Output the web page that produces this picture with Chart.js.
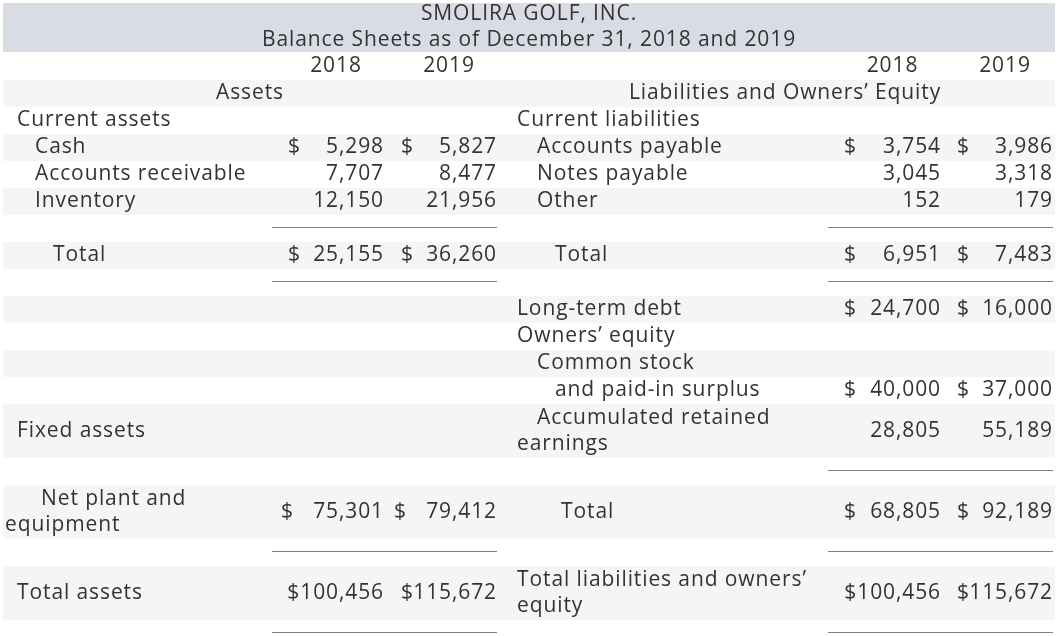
<!DOCTYPE html>
<html>
<head>
<meta charset="utf-8">
<script src="https://cdn.jsdelivr.net/npm/chart.js@4.4.1/dist/chart.umd.min.js"></script>
<style>
  html, body { margin: 0; padding: 0; background: #ffffff; }
  canvas { display: block; }
</style>
</head>
<body>
<canvas id="sheet" width="1062" height="636"></canvas>
<script>
// ================= DATA =================
const titleLines = ['SMOLIRA GOLF, INC.', 'Balance Sheets as of December 31, 2018 and 2019'];
const years = ['2018', '2019'];
const sectionHeaders = ['Assets', 'Liabilities and Owners\u2019 Equity'];

const assetLabels = ['Current assets', 'Cash', 'Accounts receivable', 'Inventory', '', 'Total', '', '', '', '', '',
  'Fixed assets', '', 'Net plant and\nequipment', '', 'Total assets', ''];
const assets2018 = [null, 5298, 7707, 12150, null, 25155, null, null, null, null, null, null, null, 75301, null, 100456, null];
const assets2019 = [null, 5827, 8477, 21956, null, 36260, null, null, null, null, null, null, null, 79412, null, 115672, null];

const liabLabels = ['Current liabilities', 'Accounts payable', 'Notes payable', 'Other', '', 'Total', '',
  'Long-term debt', 'Owners\u2019 equity', 'Common stock', 'and paid-in surplus', 'Accumulated retained\nearnings', '',
  'Total', '', 'Total liabilities and owners\u2019\nequity', ''];
const liab2018 = [null, 3754, 3045, 152, null, 6951, null, 24700, null, null, 40000, 28805, null, 68805, null, 100456, null];
const liab2019 = [null, 3986, 3318, 179, null, 7483, null, 16000, null, null, 37000, 55189, null, 92189, null, 115672, null];

// rows (body index) that carry a total rule
const assetRules = [4, 6, 14, 16];
const liabRules = [4, 6, 12, 14, 16];

// ================= STYLE / LAYOUT =================
const FONT_FAMILY = "'Open Sans', sans-serif";
const FONT_SIZE = 21;
const LETTER_SPACING = '0.9px';
const TEXT_COLOR = '#333333';
const BAND_COLOR = '#d9dce5';
const STRIPE_COLOR = '#f5f5f5';
const RULE_COLOR = '#808080';

const LAYOUT = {
  width: 1062, height: 636,
  rowPx: 27, topPx: 26,
  tableX: [3, 1055],
  band: [3, 52],
  titleX: 529, titleGap: 26,
  sectionX: [250, 785],
  lineGap: 26,
  bodyStartUnit: 3,
  leftLabelX: [[17], [35], [35], [35], [], [53], [], [], [], [], [], [17], [], [41, 5], [], [17], []],
  rightLabelX: [[517], [537], [537], [537], [], [555], [], [517], [517], [537], [555], [537, 517], [], [561], [], [517, 517], []],
  cols: {
    a18: { dollar: 288, right: 384 },
    a19: { dollar: 401, right: 497 },
    l18: { dollar: 844, right: 941 },
    l19: { dollar: 957, right: 1053 }
  },
  // dollar sign style per cell: s = separate column sign, w = separate shifted, a = attached
  dollar: {
    a18: { 1: 's', 5: 's', 13: 'w', 15: 'a' },
    a19: { 1: 's', 5: 's', 13: 'w', 15: 's' },
    l18: { 1: 's', 5: 's', 7: 's', 10: 's', 13: 's', 15: 'a' },
    l19: { 1: 's', 5: 's', 7: 's', 10: 's', 13: 's', 15: 's' }
  },
  wideShift: -7,
  ruleLeft: [272, 497],
  ruleRight: [828, 1053]
};

// ================= BUILD =================
const px2u = p => p / LAYOUT.rowPx;
const yMin = -LAYOUT.topPx / LAYOUT.rowPx;
const yMax = (LAYOUT.height - LAYOUT.topPx) / LAYOUT.rowPx;

// row structure
const rows = [];
rows.push({ unit: 1, span: 1, gray: false });   // year header
rows.push({ unit: 2, span: 1, gray: true });    // section header
const bodyRows = [];
let u = LAYOUT.bodyStartUnit;
for (let i = 0; i < assetLabels.length; i++) {
  const span = Math.max(assetLabels[i].split('\n').length, liabLabels[i].split('\n').length);
  const r = { unit: u, span: span, gray: i % 2 === 1 };
  bodyRows.push(r); rows.push(r);
  u += span;
}
const center = r => r.unit + r.span / 2;

// text points (labels + headers)
const textPoints = [];
titleLines.forEach((t, j) => {
  const c = (px2u(LAYOUT.band[0] - LAYOUT.topPx) + px2u(LAYOUT.band[1] - LAYOUT.topPx)) / 2;
  textPoints.push({ x: LAYOUT.titleX, y: c + (j - 0.5) * px2u(LAYOUT.titleGap), text: t, align: 'center' });
});
const colKeys = ['a18', 'a19', 'l18', 'l19'];
colKeys.forEach((k, j) => {
  const c = LAYOUT.cols[k];
  textPoints.push({ x: (c.dollar + c.right) / 2, y: center(rows[0]), text: years[j % 2], align: 'center' });
});
sectionHeaders.forEach((t, j) => {
  textPoints.push({ x: LAYOUT.sectionX[j], y: center(rows[1]), text: t, align: 'center' });
});
function addLabels(labels, xs) {
  labels.forEach((lab, i) => {
    if (!lab) return;
    const lines = lab.split('\n');
    const r = bodyRows[i];
    lines.forEach((ln, j) => {
      textPoints.push({
        x: xs[i][j], y: center(r) + (j - (lines.length - 1) / 2) * px2u(LAYOUT.lineGap),
        text: ln, align: 'left'
      });
    });
  });
}
addLabels(assetLabels, LAYOUT.leftLabelX);
addLabels(liabLabels, LAYOUT.rightLabelX);

// numeric cells
const valueSets = { a18: assets2018, a19: assets2019, l18: liab2018, l19: liab2019 };
const cellDatasets = colKeys.map(k => ({
  label: k,
  colKey: k,
  kind: 'cells',
  data: valueSets[k].map((v, i) => v === null ? null :
    { x: LAYOUT.cols[k].right, y: center(bodyRows[i]), v: v, dollar: LAYOUT.dollar[k][i] || '' })
    .filter(p => p !== null),
  pointRadius: 0, pointHoverRadius: 0, showLine: false
}));

// rules as line datasets
const ruleDatasets = [];
function addRules(list, span) {
  list.forEach(i => {
    const r = bodyRows[i];
    const yy = r.unit + 0.5 - px2u(1);
    ruleDatasets.push({
      type: 'line', kind: 'rule',
      data: [{ x: span[0], y: yy }, { x: span[1], y: yy }],
      borderColor: RULE_COLOR, borderWidth: 1, pointRadius: 0, showLine: true, fill: false
    });
  });
}
addRules(assetRules, LAYOUT.ruleLeft);
addRules(liabRules, LAYOUT.ruleRight);

const textDataset = { label: 'text', kind: 'text', data: textPoints, pointRadius: 0, pointHoverRadius: 0, showLine: false };

// ================= PLUGIN =================
const tablePlugin = {
  id: 'tablePlugin',
  beforeDatasetsDraw(chart) {
    const { ctx, scales: { x, y } } = chart;
    const x0 = x.getPixelForValue(LAYOUT.tableX[0]);
    const x1 = x.getPixelForValue(LAYOUT.tableX[1]);
    ctx.save();
    ctx.fillStyle = BAND_COLOR;
    const b0 = y.getPixelForValue(px2u(LAYOUT.band[0] - LAYOUT.topPx));
    const b1 = y.getPixelForValue(px2u(LAYOUT.band[1] - LAYOUT.topPx));
    ctx.fillRect(x0, b0, x1 - x0, b1 - b0);
    ctx.fillStyle = STRIPE_COLOR;
    rows.forEach(r => {
      if (!r.gray) return;
      const t = y.getPixelForValue(r.unit);
      const bt = y.getPixelForValue(r.unit + r.span);
      ctx.fillRect(x0, t, x1 - x0, bt - t);
    });
    ctx.restore();
  },
  afterDatasetsDraw(chart) {
    const { ctx, scales: { x } } = chart;
    ctx.save();
    ctx.font = FONT_SIZE + 'px ' + FONT_FAMILY;
    try { ctx.letterSpacing = LETTER_SPACING; } catch (e) {}
    ctx.fillStyle = TEXT_COLOR;
    ctx.textBaseline = 'middle';
    chart.data.datasets.forEach((ds, di) => {
      const meta = chart.getDatasetMeta(di);
      if (ds.kind === 'text') {
        meta.data.forEach((el, i) => {
          const p = ds.data[i];
          ctx.textAlign = p.align;
          ctx.fillText(p.text, el.x, el.y);
        });
      } else if (ds.kind === 'cells') {
        const col = LAYOUT.cols[ds.colKey];
        meta.data.forEach((el, i) => {
          const p = ds.data[i];
          const num = p.v.toLocaleString('en-US');
          ctx.textAlign = 'right';
          if (p.dollar === 'a') {
            ctx.fillText('$' + num, el.x, el.y);
          } else {
            ctx.fillText(num, el.x, el.y);
            if (p.dollar) {
              ctx.textAlign = 'left';
              const dx = col.dollar + (p.dollar === 'w' ? LAYOUT.wideShift : 0);
              ctx.fillText('$', x.getPixelForValue(dx), el.y);
            }
          }
        });
      }
    });
    ctx.restore();
  }
};

function draw() {
  new Chart(document.getElementById('sheet'), {
    type: 'scatter',
    data: { datasets: [...ruleDatasets, ...cellDatasets, textDataset] },
    options: {
      responsive: false,
      animation: false,
      events: [],
      layout: { padding: 0 },
      plugins: { legend: { display: false }, tooltip: { enabled: false } },
      scales: {
        x: { type: 'linear', min: 0, max: LAYOUT.width, display: false },
        y: { type: 'linear', min: yMin, max: yMax, reverse: true, display: false }
      }
    },
    plugins: [tablePlugin]
  });
}
if (document.fonts && document.fonts.load) {
  document.fonts.load(FONT_SIZE + 'px ' + FONT_FAMILY).then(draw, draw);
} else { draw(); }
</script>
</body>
</html>
